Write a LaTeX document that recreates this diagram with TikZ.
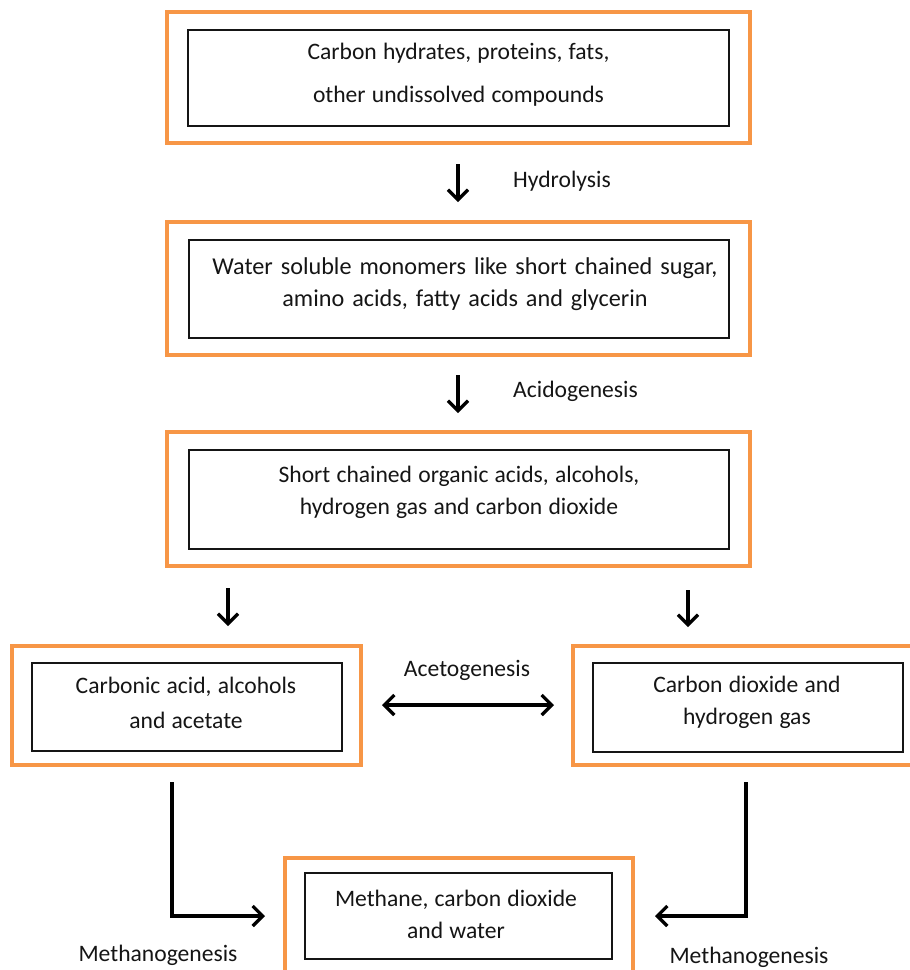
\documentclass[tikz,border=0pt]{standalone}
\usepackage{fontspec}
\setmainfont{Carlito}
\usetikzlibrary{arrows.meta}
\definecolor{orng}{HTML}{F79646}
\definecolor{txt}{HTML}{151515}
\newcommand\myspA{\spaceskip=6.2pt plus 2pt minus 1pt\relax}
\newcommand\myspB{\spaceskip=8pt plus 2pt minus 1pt\relax}
\begin{document}
\begin{tikzpicture}[x=1pt,y=-1pt,
  obox/.style={draw=orng, line width=3.4pt, inner sep=0pt, rectangle},
  ibox/.style={draw=txt, line width=1.6pt, inner sep=0pt, rectangle},
  tx/.style={text=txt, inner sep=0pt, align=center, font=\fontsize{23.6}{32}\selectfont\myspA},
  lbl/.style={text=txt, inner sep=0pt, font=\fontsize{23.6}{28}\selectfont},
  tip/.tip={Straight Barb[length=10pt,width=20pt]},
  arr/.style={draw=black, line width=3.3pt, -tip},
  darr/.style={draw=black, line width=3.3pt, tip-tip}]
\useasboundingbox (0,0) rectangle (910,970);
\clip (0,0) rectangle (910,970);
% boxes
\node[obox, minimum width=583pt, minimum height=131pt] (o1) at (458.5,77.5) {};
\node[ibox, minimum width=541pt, minimum height=96pt] (b1) at (458.5,78) {};
\node[tx] (t1) at (458.5,74.5) {Carbon hydrates, proteins, fats,\\[11pt] other undissolved compounds};
\node[obox, minimum width=583pt, minimum height=133pt] (o2) at (458.5,288.5) {};
\node[ibox, minimum width=540pt, minimum height=98pt] (b2) at (459,289) {};
\node[tx, font=\fontsize{24.2}{32}\selectfont\myspB] (t2) at (465,284)
  {Water soluble monomers like short chained sugar,\\ amino acids, fatty acids and glycerin};
\node[obox, minimum width=583pt, minimum height=134pt] (o3) at (458.5,499) {};
\node[ibox, minimum width=540pt, minimum height=99pt] (b3) at (459,499.5) {};
\node[tx] (t3) at (459,492.5) {Short chained organic acids, alcohols,\\ hydrogen gas and carbon dioxide};
\node[obox, minimum width=349pt, minimum height=119pt] (o4) at (186.5,705.5) {};
\node[ibox, minimum width=310pt, minimum height=88pt] (b4) at (187,707) {};
\node[tx] (t4) at (186,702.5) {Carbonic acid, alcohols\\[3pt] and acetate};
\node[obox, minimum width=357pt, minimum height=119pt] (o5) at (751.5,705.5) {};
\node[ibox, minimum width=310pt, minimum height=89pt] (b5) at (748,707.5) {};
\node[tx] (t5) at (747,702) {Carbon dioxide and\\ hydrogen gas};
\node[obox, minimum width=348pt, minimum height=142pt] (o6) at (459,929) {};
\node[ibox, minimum width=307pt, minimum height=86pt] (b6) at (458.5,916) {};
\node[tx] (t6) at (456,914) {Methane, carbon dioxide\\ and water};
% connector ends
\coordinate (a1s) at (458,164); \coordinate (a1e) at (458,202);
\coordinate (a2s) at (458,375); \coordinate (a2e) at (458,413);
\coordinate (a3s) at (228,588); \coordinate (a3e) at (228,626);
\coordinate (a4s) at (688,590); \coordinate (a4e) at (688,627);
\coordinate (d1) at (382,705); \coordinate (d2) at (554,705);
\coordinate (e1s) at (172,782); \coordinate (e1e) at (265,916);
\coordinate (e2s) at (746,782); \coordinate (e2e) at (655,916);
\draw[arr] (a1s) -- (a1e);
\draw[arr] (a2s) -- (a2e);
\draw[arr] (a3s) -- (a3e);
\draw[arr] (a4s) -- (a4e);
\draw[darr] (d1) -- (d2);
\draw[arr] (e1s) |- (e1e);
\draw[arr] (e2s) |- (e2e);
% labels
\node[lbl, anchor=west] (l1) at (513,181) {Hydrolysis};
\node[lbl, anchor=west] (l2) at (513,391) {Acidogenesis};
\node[lbl] (l3) at (467,670) {Acetogenesis};
\node[lbl] (l4) at (158,955) {Methanogenesis};
\node[lbl] (l5) at (749,957) {Methanogenesis};
\end{tikzpicture}
\end{document}
